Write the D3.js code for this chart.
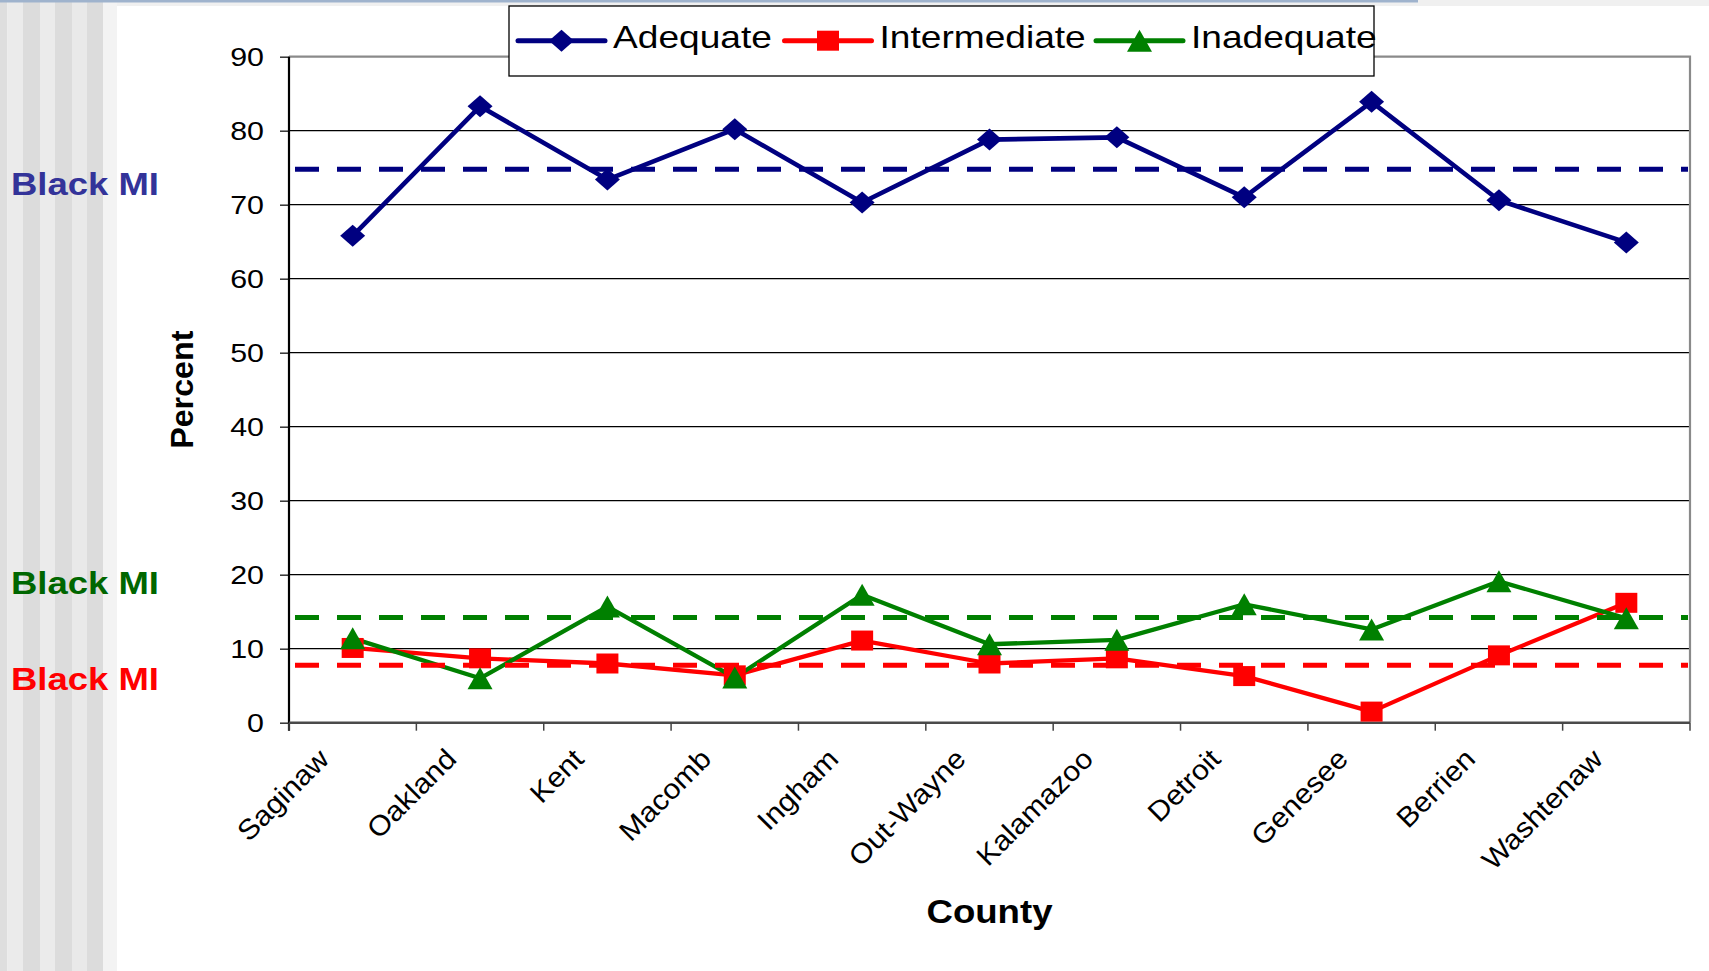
<!DOCTYPE html>
<html><head><meta charset="utf-8">
<script src="https://cdn.jsdelivr.net/npm/d3@7"></script>
<style>html,body{margin:0;padding:0;background:#fff;overflow:hidden}</style>
</head><body>
<svg id="chart" width="1709" height="971"></svg>
<script>
// ---------------- DATA ----------------
const categories = ["Saginaw","Oakland","Kent","Macomb","Ingham","Out-Wayne","Kalamazoo","Detroit","Genesee","Berrien","Washtenaw"];
const adequate     = [65.8, 83.3, 73.4, 80.2, 70.3, 78.8, 79.1, 71.0, 83.9, 70.6, 64.9];
const intermediate = [10.1,  8.7,  8.0,  6.4, 11.1,  8.0,  8.7,  6.3,  1.5,  9.1, 16.2];
const inadequate   = [11.4,  6.0, 15.7,  6.1, 17.3, 10.6, 11.2, 16.0, 12.6, 19.1, 14.1];
const seriesNames  = ["Adequate", "Intermediate", "Inadequate"];
const blackMI      = [74.8, 7.75, 14.2];   // state reference (dashed lines), same order as series
const referenceLabel = "Black MI";
const yTicks = [0, 10, 20, 30, 40, 50, 60, 70, 80, 90];
const xTitle = "County";
const yTitle = "Percent";

// ---------------- LAYOUT / STYLE ----------------
const FONT = "'Liberation Sans', Arial, sans-serif";
const svg = d3.select("#chart");
const M = {left: 289, right: 1690, top: 56.7, bottom: 722.7};
const x = d3.scaleBand().domain(categories).range([M.left, M.right]);
const y = d3.scaleLinear().domain([0, 90]).range([M.bottom, M.top]);
const cx = c => x(c) + x.bandwidth() / 2;

const styles = [
  {color: "#000080", marker: "diamond", width: 4.6, labelColor: "#333399", labelY: 195},
  {color: "#FF0000", marker: "square",  width: 4.3, labelColor: "#FF0000", labelY: 690},
  {color: "#008000", marker: "triangle",width: 4.3, labelColor: "#006600", labelY: 594}
];
const seriesValues = [adequate, intermediate, inadequate];

function markerPath(type) {
  if (type === "diamond") { const w = 25, h = 22; return `M0,${-h/2}L${w/2},0L0,${h/2}L${-w/2},0Z`; }
  if (type === "square")  { const w = 22, h = 20; return `M${-w/2},${-h/2}H${w/2}V${h/2}H${-w/2}Z`; }
  const w = 25, h = 22; return `M0,${-h/2}L${w/2},${h/2}L${-w/2},${h/2}Z`;
}
function stretched(sel, tx, ty, angle, sx) {
  return sel.attr("transform", `translate(${tx},${ty}) rotate(${angle}) scale(${sx},1)`);
}

// ---------------- BACKGROUND ----------------
const stripeBounds = [0, 7.5, 23, 40, 55, 72, 87, 103, 117];
const stripeFill = ["#dedede", "#ebebeb", "#dcdcdc", "#ebebeb", "#dcdcdc", "#e9e9e9", "#dcdcdc", "#f3f3f3"];
svg.append("rect").attr("width", 1709).attr("height", 971).attr("fill", "#fff");
svg.append("g").selectAll("rect").data(stripeFill).join("rect")
  .attr("x", (d, i) => stripeBounds[i]).attr("y", 0)
  .attr("width", (d, i) => stripeBounds[i + 1] - stripeBounds[i]).attr("height", 971)
  .attr("fill", d => d);
svg.append("rect").attr("x", 117).attr("y", 0).attr("width", 1592).attr("height", 6).attr("fill", "#f0f0f0");
svg.append("rect").attr("x", 0).attr("y", 0).attr("width", 1418).attr("height", 2.5).attr("fill", "#9fb3cd");

// ---------------- GRID ----------------
svg.append("g").selectAll("line").data(yTicks.filter(v => v > 0 && v < 90)).join("line")
  .attr("x1", M.left).attr("x2", M.right).attr("y1", d => y(d)).attr("y2", d => y(d))
  .attr("stroke", "#000").attr("stroke-width", 1.2);

// plot border (top & right)
svg.append("path")
  .attr("d", `M${M.left},${y(90)}H${M.right}V${y(0)}`)
  .attr("fill", "none").attr("stroke", "#8a8a8a").attr("stroke-width", 2.2);

// ---------------- AXES ----------------
const yAxis = d3.axisLeft(y).tickValues(yTicks).tickSize(9).tickSizeOuter(0).tickFormat("");
const gy = svg.append("g").attr("transform", `translate(${M.left},0)`).call(yAxis);
gy.select(".domain").remove();
gy.selectAll(".tick line").attr("stroke", "#333").attr("stroke-width", 1.5);
svg.append("line").attr("x1", M.left).attr("x2", M.left).attr("y1", y(90)).attr("y2", y(0) + 8)
  .attr("stroke", "#000").attr("stroke-width", 2.2);

svg.append("g").selectAll("text").data(yTicks).join("text")
  .text(d => d)
  .attr("text-anchor", "end").attr("dy", "0.36em")
  .attr("font-family", FONT).attr("font-size", 26).attr("fill", "#000")
  .each(function(d) { stretched(d3.select(this), 264, y(d), 0, 1.17); });

// x axis line & ticks at category boundaries
svg.append("line").attr("x1", M.left).attr("x2", M.right).attr("y1", y(0)).attr("y2", y(0))
  .attr("stroke", "#4a4a4a").attr("stroke-width", 2.6);
const bounds = categories.map(c => x(c)).concat([x.range()[1]]);
svg.append("g").selectAll("line").data(bounds).join("line")
  .attr("x1", d => d).attr("x2", d => d).attr("y1", y(0)).attr("y2", y(0) + 8)
  .attr("stroke", "#444").attr("stroke-width", 1.5);

svg.append("g").selectAll("text").data(categories).join("text")
  .text(d => d)
  .attr("text-anchor", "end")
  .attr("font-family", FONT).attr("font-size", 28).attr("fill", "#000")
  .each(function(d) { stretched(d3.select(this), cx(d) - 22, y(0) + 38, -45, 1.08); });

// axis titles
stretched(svg.append("text").text(xTitle).attr("text-anchor", "middle")
  .attr("font-family", FONT).attr("font-weight", "bold").attr("font-size", 33).attr("fill", "#000"),
  (M.left + M.right) / 2, 923, 0, 1.11);
stretched(svg.append("text").text(yTitle).attr("text-anchor", "middle")
  .attr("font-family", FONT).attr("font-weight", "bold").attr("font-size", 31).attr("fill", "#000"),
  192.5, (M.top + M.bottom) / 2, -90, 1.04);

// ---------------- SERIES ----------------
const line = d3.line().x((d, i) => cx(categories[i])).y(d => y(d));
seriesValues.forEach((vals, s) => {
  svg.append("path").datum(vals).attr("d", line)
    .attr("fill", "none").attr("stroke", styles[s].color).attr("stroke-width", styles[s].width)
    .attr("stroke-linejoin", "round");
});

// reference dashed lines
svg.append("g").selectAll("line").data(blackMI).join("line")
  .attr("x1", M.left + 6).attr("x2", M.right - 2)
  .attr("y1", d => y(d)).attr("y2", d => y(d))
  .attr("stroke", (d, i) => styles[i].color).attr("stroke-width", 5)
  .attr("stroke-dasharray", "24 18");

seriesValues.forEach((vals, s) => {
  svg.append("g").selectAll("path").data(vals).join("path")
    .attr("d", markerPath(styles[s].marker))
    .attr("transform", (d, i) => `translate(${cx(categories[i])},${y(d)})`)
    .attr("fill", styles[s].color);
});

// Black MI labels
svg.append("g").selectAll("text").data(blackMI).join("text")
  .text(referenceLabel)
  .attr("font-family", FONT).attr("font-weight", "bold").attr("font-size", 32)
  .attr("fill", (d, i) => styles[i].labelColor)
  .each(function(d, i) { stretched(d3.select(this), 11, styles[i].labelY, 0, 1.14); });

// ---------------- LEGEND ----------------
const legendItemX = [518, 784.5, 1096];
const lg = svg.append("g");
lg.append("rect").attr("x", 509).attr("y", 6).attr("width", 865).attr("height", 70)
  .attr("fill", "#fff").attr("stroke", "#000").attr("stroke-width", 1.3);
seriesNames.forEach((name, s) => {
  const lx = legendItemX[s], ly = 40.7;
  lg.append("line").attr("x1", lx).attr("x2", lx + 87).attr("y1", ly).attr("y2", ly)
    .attr("stroke", styles[s].color).attr("stroke-width", 5).attr("stroke-linecap", "round");
  lg.append("path").attr("d", markerPath(styles[s].marker))
    .attr("transform", `translate(${lx + 43.5},${ly})`).attr("fill", styles[s].color);
  stretched(lg.append("text").text(name).attr("font-family", FONT).attr("font-size", 32).attr("fill", "#000"),
    lx + 95, 48.3, 0, 1.16);
});
</script>
</body></html>
